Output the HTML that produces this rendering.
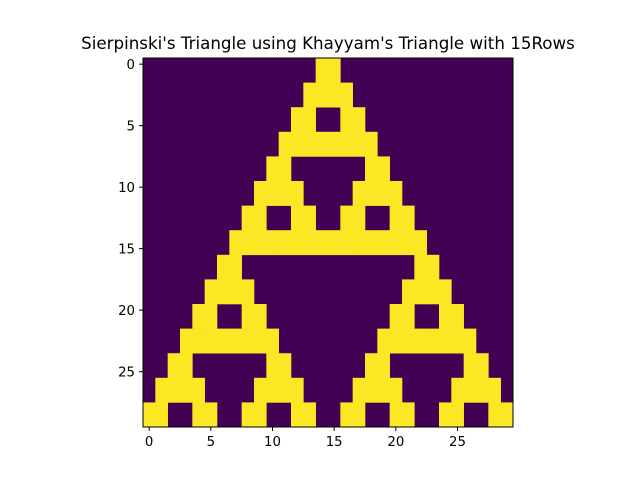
<!DOCTYPE html>
<html><head><meta charset="utf-8"><style>
html,body{margin:0;padding:0;background:#fff;}
svg text{font-family:"DejaVu Sans","Liberation Sans",sans-serif;fill:#000;}
</style></head><body>
<svg id="chart" width="640" height="480">
<text x="328" y="49" font-size="16.7" text-anchor="middle">Sierpinski's Triangle using Khayyam's Triangle with 15Rows</text>
<g id="cells"></g>
<g id="axes"></g>
</svg>
<script>
// Odd-valued entries (j) of each Pascal/Khayyam triangle row 0..14
const oddEntries = [
 [0],[0,1],[0,2],[0,1,2,3],[0,4],[0,1,4,5],[0,2,4,6],[0,1,2,3,4,5,6,7],
 [0,8],[0,1,8,9],[0,2,8,10],[0,1,2,3,8,9,10,11],[0,4,8,12],
 [0,1,4,5,8,9,12,13],[0,2,4,6,8,10,12,14]
];
const xTicks = [0,5,10,15,20,25];
const yTicks = [0,5,10,15,20,25];
const nCols = 30, nRows = 30;

const L=143, T=58, W=370, H=369;
const cw=W/nCols, ch=H/nRows;
const xs = c => L + c*cw;
const ys = r => T + r*ch;
const NS="http://www.w3.org/2000/svg";
const cells=document.getElementById('cells');
const axes=document.getElementById('axes');
function mk(tag, attrs, parent){const e=document.createElementNS(NS,tag);for(const k in attrs)e.setAttribute(k,attrs[k]);parent.appendChild(e);return e;}

const bg=mk('rect',{x:L,y:T,width:W,height:H,fill:'#440154'},cells);



oddEntries.forEach((row,i)=>{
  row.forEach(j=>{
    const c=14-i+2*j;
    const r=mk('rect',{x:xs(c),y:ys(2*i),width:2*cw+0.3,height:2*ch+0.3,fill:'#fde725'},cells);
    
    
  });
});

const fr=mk('rect',{x:L,y:T,width:W,height:H,fill:'none',stroke:'#000','stroke-width':1},axes);



xTicks.forEach(v=>{
  const x=xs(v+0.5);
  const t=mk('line',{x1:x,y1:T+H,x2:x,y2:T+H+4,stroke:'#000'},axes);
  
  
  const lb=mk('text',{x:x,y:T+H+19,'font-size':13.3,'text-anchor':'middle'},axes);
  lb.textContent=v;
  
  
});
yTicks.forEach(v=>{
  const y=ys(v+0.5);
  const t=mk('line',{x1:L-4,y1:y,x2:L,y2:y,stroke:'#000'},axes);
  
  
  const lb=mk('text',{x:L-8,y:y+5,'font-size':13.3,'text-anchor':'end'},axes);
  lb.textContent=v;
  
  
});
</script>
</body></html>
